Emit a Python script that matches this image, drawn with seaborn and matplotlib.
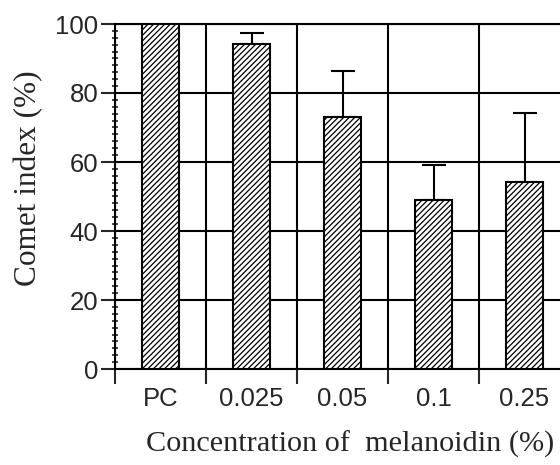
import matplotlib
matplotlib.use("Agg")
import matplotlib.pyplot as plt
import seaborn as sns
import pandas as pd
import numpy as np
from matplotlib.ticker import MultipleLocator, FixedLocator

categories = ["PC", "0.025", "0.05", "0.1", "0.25"]
values = [100, 94.1, 73.1, 49.0, 54.2]
errors = [0, 3.2, 13.2, 10.1, 19.9]
yticks = [0, 20, 40, 60, 80, 100]

sns.set_style("white")
plt.rcParams["hatch.linewidth"] = 0.9
plt.rcParams["font.family"] = ["Liberation Sans", "DejaVu Sans"]

fig = plt.figure(figsize=(5.6, 4.65), dpi=100)
ax = fig.add_axes([115 / 560, 1 - 369 / 465, 455 / 560, (369 - 24) / 465])

df = pd.DataFrame({"cat": categories, "val": values})
sns.barplot(data=df, x="cat", y="val", ax=ax, color="white", edgecolor="black",
            linewidth=1.5, width=0.4, hatch="//////", errorbar=None, zorder=3)
for p in ax.patches:
    p.set_facecolor("white")

xs = np.arange(len(categories))
ax.errorbar(xs[1:], values[1:], yerr=[np.zeros(len(values) - 1), errors[1:]],
            fmt="none", ecolor="black", elinewidth=1.5, capsize=8.5, capthick=1.5, zorder=2)

ax.set_xlim(-0.5, len(categories) - 0.5)
ax.set_ylim(0, 100)
ax.set_yticks(yticks)
ax.yaxis.set_minor_locator(MultipleLocator(2))
ax.xaxis.set_minor_locator(FixedLocator(np.arange(-0.5, len(categories), 1.0)))

ax.tick_params(axis="y", which="major", direction="out", length=10, width=1.5,
               labelsize=18.5, pad=2, left=True)
ax.tick_params(axis="y", which="minor", direction="inout", length=5, width=1.2, left=True)
ax.tick_params(axis="x", which="major", length=0, labelsize=18.5, pad=13)
ax.tick_params(axis="x", which="minor", direction="out", length=11, width=1.5, bottom=True)

ax.grid(False)
ax.grid(True, which="major", axis="y", color="black", linewidth=1.5, zorder=0)
ax.grid(True, which="minor", axis="x", color="black", linewidth=1.5, zorder=0)
ax.set_axisbelow(True)

for s in ["left", "bottom", "top"]:
    ax.spines[s].set_visible(True)
    ax.spines[s].set_color("black")
    ax.spines[s].set_linewidth(1.5)
ax.spines["right"].set_visible(False)

ax.set_xlabel("Concentration of  melanoidin (%)", family="Liberation Serif", fontsize=21.8)
ax.set_ylabel("Comet index (%)", family="Liberation Serif", fontsize=22.5)
ax.xaxis.set_label_coords(0.516, -0.178)
ax.yaxis.set_label_coords(-0.158, 0.554)

fig.savefig("out.png", dpi=100)
